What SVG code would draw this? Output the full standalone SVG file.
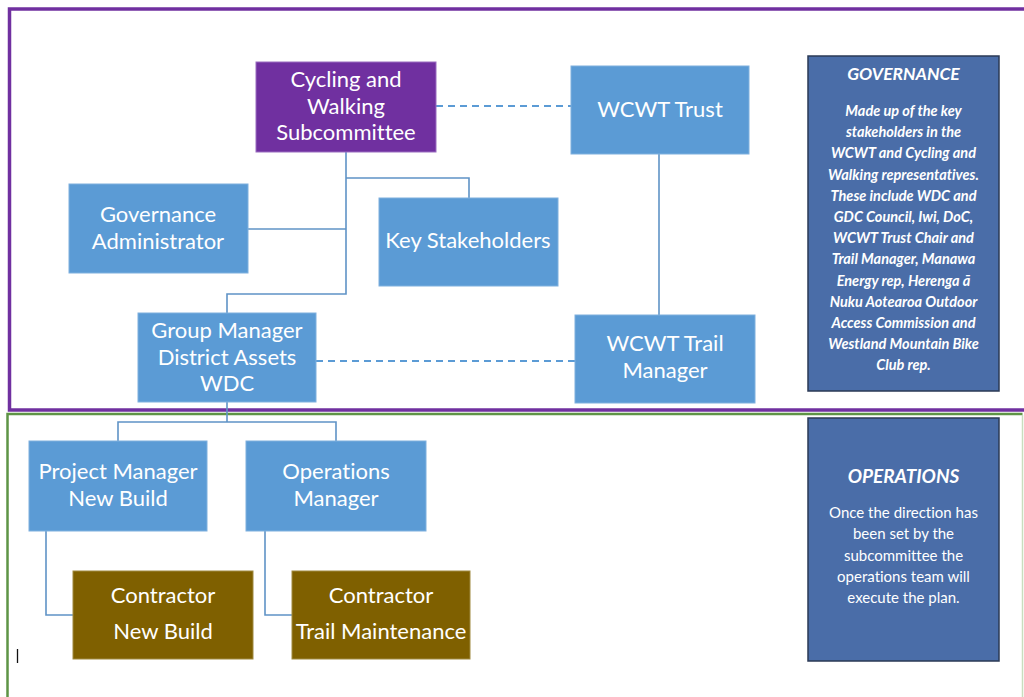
<svg xmlns="http://www.w3.org/2000/svg" width="1024" height="697" viewBox="0 0 1024 697">
<style>
text{font-variant-ligatures:none}
.node{fill:#5B9BD5;stroke:#7FB0DE;stroke-width:1}
.purple{fill:#7030A0;stroke:#9A6CC0;stroke-width:1}
.brown{fill:#7F6000;stroke:#A08A40;stroke-width:1}
.side{fill:#4A6DA8;stroke:#2B3A55;stroke-width:1.5}
.t{font-family:Lato,"Open Sans","Liberation Sans",sans-serif;font-size:22px;fill:#FFFFFF;text-anchor:middle}
.gt{font-family:Lato,"Open Sans","Liberation Sans",sans-serif;font-size:14.5px;font-weight:bold;font-style:italic;fill:#FFFFFF;text-anchor:middle}
.ot{font-family:Lato,"Open Sans","Liberation Sans",sans-serif;font-size:15px;fill:#FFFFFF;text-anchor:middle}
.hd{font-family:Lato,"Open Sans","Liberation Sans",sans-serif;font-weight:bold;font-style:italic;fill:#FFFFFF;text-anchor:middle}
.solid{fill:none;stroke:#5F93C6;stroke-width:1.6}
.dash{fill:none;stroke:#5B9BD5;stroke-width:2;stroke-dasharray:7 5}
</style>
<rect x="0" y="0" width="1024" height="697" fill="#FFFFFF"/>
<g id="frames">
<polyline points="1026,9 9.5,9 9.5,410 1026,410" fill="none" stroke="#7030A0" stroke-width="3.5"/>
<polyline points="7.5,700 7.5,414 1022.5,414" fill="none" stroke="#5E9445" stroke-width="2.5"/>
<polyline points="1022.5,415 1022.5,700" fill="none" stroke="#C9DDBE" stroke-width="1.5"/>
</g>
<g id="connectors">
<polyline class="solid" points="346,152 346,294 227,294 227,313"/>
<polyline class="solid" points="346,178 469,178 469,198"/>
<polyline class="solid" points="346,229 248,229"/>
<line class="dash" x1="436" y1="106" x2="571" y2="106"/>
<line class="solid" x1="659" y1="154" x2="659" y2="315"/>
<line class="dash" x1="316" y1="361" x2="575" y2="361"/>
<polyline class="solid" points="227,402 227,422"/>
<polyline class="solid" points="118,441 118,422 336,422 336,441"/>
<polyline class="solid" points="46,531 46,615 73,615"/>
<polyline class="solid" points="265,531 265,615 292,615"/>
</g>
<g id="subcommittee">
<rect class="purple" x="256" y="62" width="180" height="90"/>
<text class="t" x="346" y="87">Cycling and</text>
<text class="t" x="346" y="113.5">Walking</text>
<text class="t" x="346" y="140">Subcommittee</text>
</g>
<g id="wcwt-trust">
<rect class="node" x="571" y="66" width="178" height="88"/>
<text class="t" x="660" y="117">WCWT Trust</text>
</g>
<g id="governance-administrator">
<rect class="node" x="69" y="184" width="179" height="89"/>
<text class="t" x="158" y="222">Governance</text>
<text class="t" x="158" y="249">Administrator</text>
</g>
<g id="key-stakeholders">
<rect class="node" x="379" y="198" width="179" height="88"/>
<text class="t" x="468" y="248">Key Stakeholders</text>
</g>
<g id="group-manager">
<rect class="node" x="138" y="313" width="178" height="89"/>
<text class="t" x="227" y="338">Group Manager</text>
<text class="t" x="227" y="364.5">District Assets</text>
<text class="t" x="227" y="391">WDC</text>
</g>
<g id="wcwt-trail-manager">
<rect class="node" x="575" y="315" width="180" height="88"/>
<text class="t" x="665" y="351">WCWT Trail</text>
<text class="t" x="665" y="378">Manager</text>
</g>
<g id="project-manager">
<rect class="node" x="29" y="441" width="178" height="90"/>
<text class="t" x="118" y="479">Project Manager</text>
<text class="t" x="118" y="506">New Build</text>
</g>
<g id="operations-manager">
<rect class="node" x="246" y="441" width="180" height="90"/>
<text class="t" x="336" y="479">Operations</text>
<text class="t" x="336" y="506">Manager</text>
</g>
<g id="contractor-new-build">
<rect class="brown" x="73" y="571" width="180" height="88"/>
<text class="t" x="163" y="603">Contractor</text>
<text class="t" x="163" y="639">New Build</text>
</g>
<g id="contractor-trail-maintenance">
<rect class="brown" x="292" y="571" width="178" height="88"/>
<text class="t" x="381" y="603">Contractor</text>
<text class="t" x="381" y="639">Trail Maintenance</text>
</g>
<g id="governance">
<rect class="side" x="808" y="56" width="191" height="335"/>
<text class="hd" x="903.5" y="80" font-size="17.5px">GOVERNANCE</text>
<text class="gt" x="903.5" y="116">Made up of the key</text>
<text class="gt" x="903.5" y="137.2">stakeholders in the</text>
<text class="gt" x="903.5" y="158.4">WCWT and Cycling and</text>
<text class="gt" x="903.5" y="179.6">Walking representatives.</text>
<text class="gt" x="903.5" y="200.8">These include WDC and</text>
<text class="gt" x="903.5" y="222">GDC Council, Iwi, DoC,</text>
<text class="gt" x="903.5" y="243.2">WCWT Trust Chair and</text>
<text class="gt" x="903.5" y="264.4">Trail Manager, Manawa</text>
<text class="gt" x="903.5" y="285.6">Energy rep, Herenga ā</text>
<text class="gt" x="903.5" y="306.8">Nuku Aotearoa Outdoor</text>
<text class="gt" x="903.5" y="328">Access Commission and</text>
<text class="gt" x="903.5" y="349.2">Westland Mountain Bike</text>
<text class="gt" x="903.5" y="370.4">Club rep.</text>
</g>
<g id="operations">
<rect class="side" x="808" y="418" width="191" height="243"/>
<text class="hd" x="903.5" y="483" font-size="19px">OPERATIONS</text>
<text class="ot" x="903.5" y="518">Once the direction has</text>
<text class="ot" x="903.5" y="539.3">been set by the</text>
<text class="ot" x="903.5" y="560.6">subcommittee the</text>
<text class="ot" x="903.5" y="581.9">operations team will</text>
<text class="ot" x="903.5" y="603.2">execute the plan.</text>
</g>
<line x1="17.5" y1="649" x2="17.5" y2="663" stroke="#111111" stroke-width="1.3"/>
</svg>
